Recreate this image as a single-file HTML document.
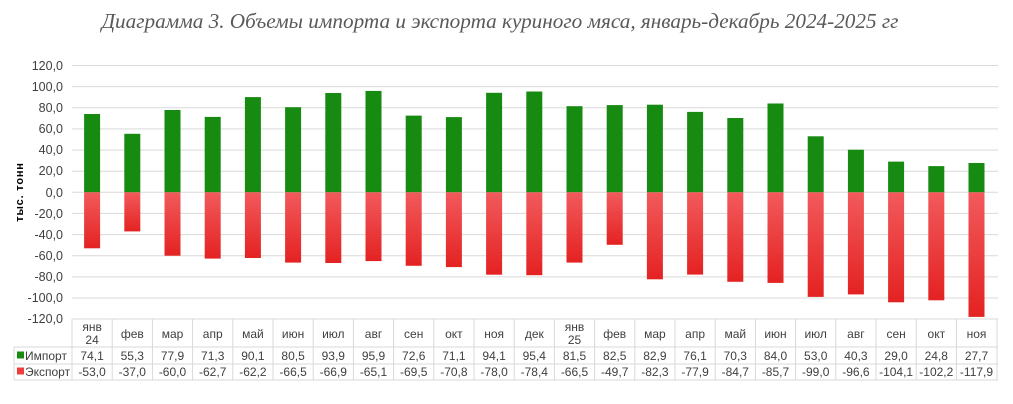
<!DOCTYPE html>
<html><head><meta charset="utf-8"><style>
body{margin:0;background:#fff;width:1013px;height:404px;overflow:hidden}
svg{display:block}
text{font-family:"Liberation Sans",sans-serif;fill:#404040}
</style></head><body>
<svg width="1013" height="404" viewBox="0 0 1013 404">
<defs><linearGradient id="rg" x1="0" y1="0" x2="0" y2="1"><stop offset="0" stop-color="#f25a5c"/><stop offset="1" stop-color="#e42222"/></linearGradient></defs>
<text x="500" y="28" text-anchor="middle" style="font-family:'Liberation Serif',serif;font-style:italic;font-size:21.2px;fill:#595959">Диаграмма 3. Объемы импорта и экспорта куриного мяса, январь-декабрь 2024-2025 гг</text>
<g stroke="#d9d9d9" stroke-width="1">
<line x1="72" x2="998" y1="65.5" y2="65.5"/><line x1="72" x2="998" y1="86.6" y2="86.6"/><line x1="72" x2="998" y1="107.8" y2="107.8"/><line x1="72" x2="998" y1="128.9" y2="128.9"/><line x1="72" x2="998" y1="150.1" y2="150.1"/><line x1="72" x2="998" y1="171.2" y2="171.2"/><line x1="72" x2="998" y1="192.3" y2="192.3"/><line x1="72" x2="998" y1="213.4" y2="213.4"/><line x1="72" x2="998" y1="234.6" y2="234.6"/><line x1="72" x2="998" y1="255.7" y2="255.7"/><line x1="72" x2="998" y1="276.9" y2="276.9"/><line x1="72" x2="998" y1="298" y2="298"/>
</g>
<g font-size="12.5" text-anchor="end">
<text x="63" y="70">120,0</text><text x="63" y="91">100,0</text><text x="63" y="112">80,0</text><text x="63" y="133">60,0</text><text x="63" y="154">40,0</text><text x="63" y="175">20,0</text><text x="63" y="197">0,0</text><text x="63" y="218">-20,0</text><text x="63" y="239">-40,0</text><text x="63" y="260">-60,0</text><text x="63" y="281">-80,0</text><text x="63" y="302">-100,0</text><text x="63" y="323">-120,0</text>
</g>
<text transform="translate(23,192) rotate(-90)" text-anchor="middle" font-size="11" font-weight="bold" letter-spacing="0.8" style="fill:#000">тыс. тонн</text>
<g fill="#178a12">
<rect x="84.1" y="114" width="16" height="78.3"/><rect x="124.3" y="133.8" width="16" height="58.5"/><rect x="164.5" y="110" width="16" height="82.3"/><rect x="204.7" y="116.9" width="16" height="75.4"/><rect x="244.9" y="97.1" width="16" height="95.2"/><rect x="285.1" y="107.2" width="16" height="85.1"/><rect x="325.3" y="93" width="16" height="99.3"/><rect x="365.5" y="90.9" width="16" height="101.4"/><rect x="405.7" y="115.6" width="16" height="76.7"/><rect x="445.9" y="117.1" width="16" height="75.2"/><rect x="486.1" y="92.8" width="16" height="99.5"/><rect x="526.3" y="91.5" width="16" height="100.8"/><rect x="566.5" y="106.2" width="16" height="86.1"/><rect x="606.7" y="105.1" width="16" height="87.2"/><rect x="646.9" y="104.7" width="16" height="87.6"/><rect x="687.1" y="111.9" width="16" height="80.4"/><rect x="727.3" y="118" width="16" height="74.3"/><rect x="767.5" y="103.5" width="16" height="88.8"/><rect x="807.7" y="136.3" width="16" height="56"/><rect x="847.9" y="149.7" width="16" height="42.6"/><rect x="888.1" y="161.6" width="16" height="30.7"/><rect x="928.3" y="166.1" width="16" height="26.2"/><rect x="968.5" y="163" width="16" height="29.3"/>
</g>
<g fill="url(#rg)">
<rect x="84.1" y="192.3" width="16" height="56"/><rect x="124.3" y="192.3" width="16" height="39.1"/><rect x="164.5" y="192.3" width="16" height="63.4"/><rect x="204.7" y="192.3" width="16" height="66.3"/><rect x="244.9" y="192.3" width="16" height="65.7"/><rect x="285.1" y="192.3" width="16" height="70.3"/><rect x="325.3" y="192.3" width="16" height="70.7"/><rect x="365.5" y="192.3" width="16" height="68.8"/><rect x="405.7" y="192.3" width="16" height="73.5"/><rect x="445.9" y="192.3" width="16" height="74.8"/><rect x="486.1" y="192.3" width="16" height="82.4"/><rect x="526.3" y="192.3" width="16" height="82.9"/><rect x="566.5" y="192.3" width="16" height="70.3"/><rect x="606.7" y="192.3" width="16" height="52.5"/><rect x="646.9" y="192.3" width="16" height="87"/><rect x="687.1" y="192.3" width="16" height="82.3"/><rect x="727.3" y="192.3" width="16" height="89.5"/><rect x="767.5" y="192.3" width="16" height="90.6"/><rect x="807.7" y="192.3" width="16" height="104.6"/><rect x="847.9" y="192.3" width="16" height="102.1"/><rect x="888.1" y="192.3" width="16" height="110"/><rect x="928.3" y="192.3" width="16" height="108"/><rect x="968.5" y="192.3" width="16" height="124.6"/>
</g>
<g stroke="#d9d9d9" stroke-width="1" fill="none">
<line x1="72" x2="998" y1="319" y2="319"/><line x1="14" x2="998" y1="347" y2="347"/><line x1="14" x2="998" y1="364" y2="364"/><line x1="14" x2="998" y1="380" y2="380"/>
<line x1="14" x2="14" y1="347" y2="380"/>
<line x1="72" x2="72" y1="319" y2="380"/><line x1="112.2" x2="112.2" y1="319" y2="380"/><line x1="152.4" x2="152.4" y1="319" y2="380"/><line x1="192.6" x2="192.6" y1="319" y2="380"/><line x1="232.8" x2="232.8" y1="319" y2="380"/><line x1="273" x2="273" y1="319" y2="380"/><line x1="313.2" x2="313.2" y1="319" y2="380"/><line x1="353.4" x2="353.4" y1="319" y2="380"/><line x1="393.6" x2="393.6" y1="319" y2="380"/><line x1="433.8" x2="433.8" y1="319" y2="380"/><line x1="474" x2="474" y1="319" y2="380"/><line x1="514.2" x2="514.2" y1="319" y2="380"/><line x1="554.4" x2="554.4" y1="319" y2="380"/><line x1="594.6" x2="594.6" y1="319" y2="380"/><line x1="634.8" x2="634.8" y1="319" y2="380"/><line x1="675" x2="675" y1="319" y2="380"/><line x1="715.2" x2="715.2" y1="319" y2="380"/><line x1="755.4" x2="755.4" y1="319" y2="380"/><line x1="795.6" x2="795.6" y1="319" y2="380"/><line x1="835.8" x2="835.8" y1="319" y2="380"/><line x1="876" x2="876" y1="319" y2="380"/><line x1="916.2" x2="916.2" y1="319" y2="380"/><line x1="956.4" x2="956.4" y1="319" y2="380"/><line x1="997" x2="997" y1="319" y2="380"/>
</g>
<g font-size="12" text-anchor="middle">
<text x="92.1" y="331">янв</text><text x="92.1" y="344">24</text>
<text x="132.3" y="338">фев</text><text x="172.5" y="338">мар</text><text x="212.7" y="338">апр</text><text x="252.9" y="338">май</text><text x="293.1" y="338">июн</text><text x="333.3" y="338">июл</text><text x="373.5" y="338">авг</text><text x="413.7" y="338">сен</text><text x="453.9" y="338">окт</text><text x="494.1" y="338">ноя</text><text x="534.3" y="338">дек</text>
<text x="574.5" y="331">янв</text><text x="574.5" y="344">25</text>
<text x="614.7" y="338">фев</text><text x="654.9" y="338">мар</text><text x="695.1" y="338">апр</text><text x="735.3" y="338">май</text><text x="775.5" y="338">июн</text><text x="815.7" y="338">июл</text><text x="855.9" y="338">авг</text><text x="896.1" y="338">сен</text><text x="936.3" y="338">окт</text><text x="976.5" y="338">ноя</text>
</g>
<g font-size="12" text-anchor="middle">
<text x="92.1" y="360">74,1</text><text x="132.3" y="360">55,3</text><text x="172.5" y="360">77,9</text><text x="212.7" y="360">71,3</text><text x="252.9" y="360">90,1</text><text x="293.1" y="360">80,5</text><text x="333.3" y="360">93,9</text><text x="373.5" y="360">95,9</text><text x="413.7" y="360">72,6</text><text x="453.9" y="360">71,1</text><text x="494.1" y="360">94,1</text><text x="534.3" y="360">95,4</text><text x="574.5" y="360">81,5</text><text x="614.7" y="360">82,5</text><text x="654.9" y="360">82,9</text><text x="695.1" y="360">76,1</text><text x="735.3" y="360">70,3</text><text x="775.5" y="360">84,0</text><text x="815.7" y="360">53,0</text><text x="855.9" y="360">40,3</text><text x="896.1" y="360">29,0</text><text x="936.3" y="360">24,8</text><text x="976.5" y="360">27,7</text>
<text x="92.1" y="376">-53,0</text><text x="132.3" y="376">-37,0</text><text x="172.5" y="376">-60,0</text><text x="212.7" y="376">-62,7</text><text x="252.9" y="376">-62,2</text><text x="293.1" y="376">-66,5</text><text x="333.3" y="376">-66,9</text><text x="373.5" y="376">-65,1</text><text x="413.7" y="376">-69,5</text><text x="453.9" y="376">-70,8</text><text x="494.1" y="376">-78,0</text><text x="534.3" y="376">-78,4</text><text x="574.5" y="376">-66,5</text><text x="614.7" y="376">-49,7</text><text x="654.9" y="376">-82,3</text><text x="695.1" y="376">-77,9</text><text x="735.3" y="376">-84,7</text><text x="775.5" y="376">-85,7</text><text x="815.7" y="376">-99,0</text><text x="855.9" y="376">-96,6</text><text x="896.1" y="376">-104,1</text><text x="936.3" y="376">-102,2</text><text x="976.5" y="376">-117,9</text>
</g>
<rect x="17" y="351.5" width="7" height="7" fill="#178a12"/><text x="25" y="360" font-size="12">Импорт</text>
<rect x="17" y="367.5" width="7" height="7" fill="#f03c3c"/><text x="25" y="376" font-size="12">Экспорт</text>
</svg>
</body></html>
